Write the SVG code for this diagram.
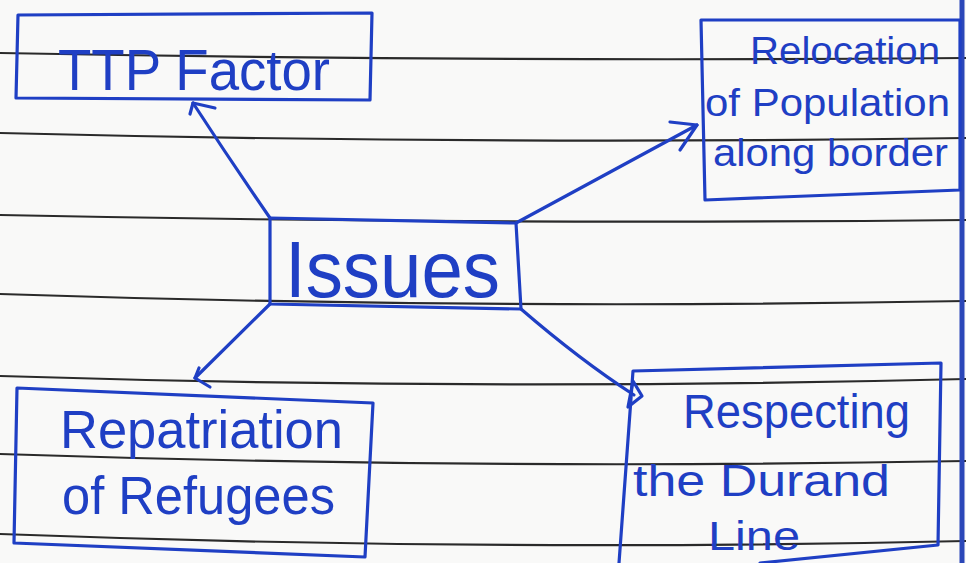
<svg xmlns="http://www.w3.org/2000/svg" width="966" height="563" viewBox="0 0 966 563">
<defs>
<style>
.rule{fill:none;stroke:#2a2a2a;stroke-width:2.2}
.ink{fill:none;stroke:#1f3fc4;stroke-width:3.2;stroke-linejoin:round;stroke-linecap:round}
.txt{fill:#1f3fc4;font-family:"Liberation Sans","DejaVu Sans",sans-serif}
</style>
</defs>
<rect x="0" y="0" width="966" height="563" fill="#f9f9f8"/>
<g id="paper">
<path class="rule" d="M0 53 Q480 62 966 58"/>
<path class="rule" d="M0 133 Q480 145 966 138"/>
<path class="rule" d="M0 215 Q480 225 966 220"/>
<path class="rule" d="M0 294 Q480 310 966 301"/>
<path class="rule" d="M0 376 Q480 391 966 379"/>
<path class="rule" d="M0 454 Q480 470 966 461"/>
<path class="rule" d="M0 534 Q480 552 966 541"/>
<line x1="962" y1="0" x2="962" y2="563" stroke="#2b47b8" stroke-width="5"/>
</g>
<g id="connectors">
<path class="ink" d="M270 218 Q230 160 193 103"/>
<path class="ink" d="M190 114 L193 103 L215 108"/>
<path class="ink" d="M516 223 L697 125"/>
<path class="ink" d="M670 122 L697 125 L680 150"/>
<path class="ink" d="M270 304 L195 378"/>
<path class="ink" d="M199 368 L195 378 L210 387"/>
<path class="ink" d="M521 309 Q580 360 634 395"/>
<path class="ink" d="M633 381 L642 396 L628 407 Z"/>
</g>
<g id="ttp">
<path class="ink" d="M18 15 L372 13 L370 100 L16 98 Z"/>
<text class="txt" x="58" y="90" font-size="58" textLength="272" lengthAdjust="spacingAndGlyphs">TTP Factor</text>
</g>
<g id="issues">
<path class="ink" d="M270 218 L516 223 L521 309 L270 304 Z"/>
<text class="txt" x="285" y="297" font-size="80" textLength="215" lengthAdjust="spacingAndGlyphs">Issues</text>
</g>
<g id="relocation">
<path class="ink" d="M701 20 L960 20 L960 190 L705 200 Z"/>
<text class="txt" x="750" y="64" font-size="38" textLength="190" lengthAdjust="spacingAndGlyphs">Relocation</text>
<text class="txt" x="705" y="116" font-size="38" textLength="245" lengthAdjust="spacingAndGlyphs">of Population</text>
<text class="txt" x="713" y="166" font-size="38" textLength="235" lengthAdjust="spacingAndGlyphs">along border</text>
</g>
<g id="repatriation">
<path class="ink" d="M17 388 L373 403 L365 557 L14 543 Z"/>
<text class="txt" x="60" y="448" font-size="54" textLength="283" lengthAdjust="spacingAndGlyphs">Repatriation</text>
<text class="txt" x="62" y="514" font-size="54" textLength="273" lengthAdjust="spacingAndGlyphs">of Refugees</text>
</g>
<g id="durand">
<path class="ink" d="M619 563 L633 371 L941 363 L938 545 L760 563"/>
<text class="txt" x="683" y="428" font-size="48" textLength="227" lengthAdjust="spacingAndGlyphs">Respecting</text>
<text class="txt" x="633" y="496" font-size="44" textLength="257" lengthAdjust="spacingAndGlyphs">the Durand</text>
<text class="txt" x="708" y="550" font-size="40" textLength="92" lengthAdjust="spacingAndGlyphs">Line</text>
</g>
</svg>
